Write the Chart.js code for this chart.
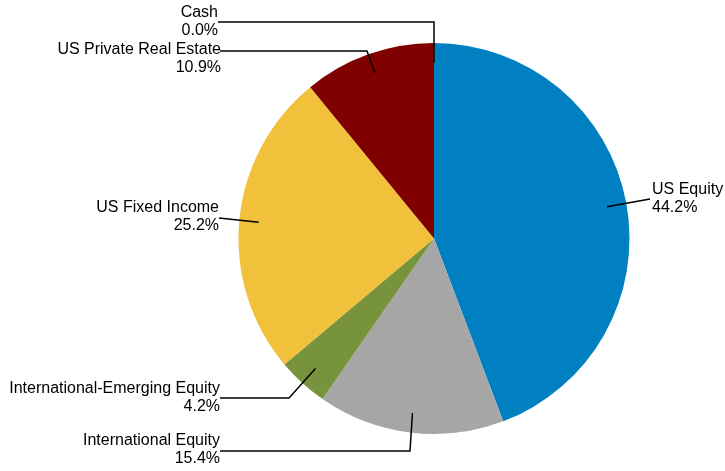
<!DOCTYPE html>
<html>
<head>
<meta charset="utf-8">
<script src="https://cdn.jsdelivr.net/npm/chart.js@4"></script>
<style>
  html, body { margin: 0; padding: 0; background: #fff; }
  #wrap { width: 725px; height: 471px; position: relative; }
</style>
</head>
<body>
<div id="wrap"><canvas id="chart_pie"></canvas></div>
<script>
// Allocation data
const categories = ['US Equity', 'International Equity', 'International-Emerging Equity', 'US Fixed Income', 'US Private Real Estate', 'Cash'];
const shares = [44.2, 15.4, 4.2, 25.2, 10.9, 0.0];
const sliceColors = ['#0080c0', '#a6a6a6', '#77933c', '#f2c13b', '#800000', '#d9d9d9'];

// Where each label sits (elbow of the leader, end of the leader, text anchor)
const labelSpots = [
  { elbow: null,       end: [650, 199], x: 652, y: 190, align: 'left' },
  { elbow: [410, 451], end: [220, 451], x: 220, y: 441, align: 'right' },
  { elbow: [289, 398], end: [220, 398], x: 220, y: 389, align: 'right' },
  { elbow: null,       end: [219, 218], x: 219, y: 208, align: 'right' },
  { elbow: [367, 51],  end: [220, 51],  x: 221, y: 50,  align: 'right' },
  { elbow: [434, 22],  end: [218, 22],  x: 218, y: 13,  align: 'right' },
];

const leaderLabels = {
  id: 'leaderLabels',
  afterDatasetsDraw(chart) {
    const ctx = chart.ctx;
    const arcs = chart.getDatasetMeta(0).data;
    ctx.save();
    ctx.strokeStyle = '#000';
    ctx.lineWidth = 1.5;
    ctx.fillStyle = '#000';
    ctx.font = '16px "Liberation Sans", Arial, sans-serif';
    ctx.textBaseline = 'middle';
    arcs.forEach((arc, i) => {
      const spot = labelSpots[i];
      const mid = (arc.startAngle + arc.endAngle) / 2;
      const r = arc.outerRadius * 0.9;
      const sx = arc.x + Math.cos(mid) * r;
      const sy = arc.y + Math.sin(mid) * r;
      ctx.beginPath();
      ctx.moveTo(sx, sy);
      if (spot.elbow) ctx.lineTo(spot.elbow[0], spot.elbow[1]);
      ctx.lineTo(spot.end[0], spot.end[1]);
      ctx.stroke();
      ctx.textAlign = spot.align;
      ctx.fillText(categories[i], spot.x, spot.y);
      ctx.fillText(shares[i].toFixed(1) + '%', spot.x, spot.y + 18);
    });
    ctx.restore();
  }
};

new Chart(document.getElementById('chart_pie'), {
  type: 'pie',
  data: {
    labels: categories,
    datasets: [{
      data: shares,
      backgroundColor: sliceColors,
      borderWidth: 0,
    }],
  },
  options: {
    responsive: true,
    maintainAspectRatio: false,
    animation: false,
    layout: { padding: { left: 238, right: 95, top: 43, bottom: 37 } },
    plugins: {
      legend: { display: false },
      tooltip: { enabled: false },
    },
  },
  plugins: [leaderLabels],
});
</script>
</body>
</html>
